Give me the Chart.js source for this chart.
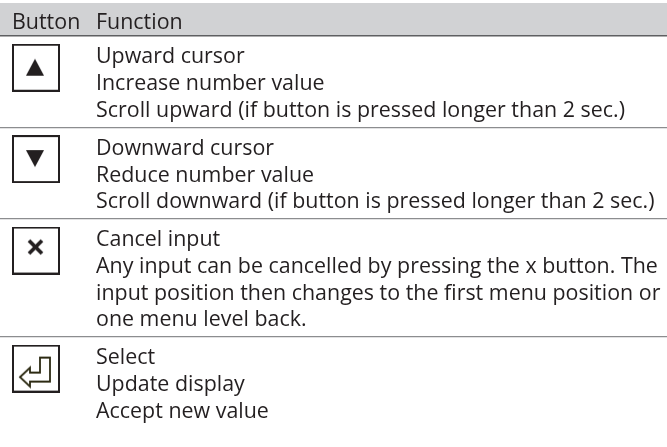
<!DOCTYPE html>
<html>
<head>
<meta charset="utf-8">
<script src="https://cdn.jsdelivr.net/npm/chart.js@4/dist/chart.umd.min.js"></script>
<style>
	html, body { margin: 0; padding: 0; background: #fff; }
	#wrap { width: 667px; height: 447px; }
</style>
</head>
<body>
<div id="wrap"><canvas id="tabla" width="667" height="447"></canvas></div>
<script>
// Datos de la tabla
const headerLabels = ['Button', 'Function'];
const buttons = ['up', 'down', 'cancel', 'enter'];
const functionLines = [
	['Upward cursor', 'Increase number value', 'Scroll upward (if button is pressed longer than 2 sec.)'],
	['Downward cursor', 'Reduce number value', 'Scroll downward (if button is pressed longer than 2 sec.)'],
	['Cancel input', 'Any input can be cancelled by pressing the x button. The', 'input position then changes to the first menu position or', 'one menu level back.'],
	['Select', 'Update display', 'Accept new value'],
];

// Medidas de la maqueta (una unidad = una línea de texto)
const PITCH = 26.65;
const TOP_PX = 36;
const ROW_PAD = 0.43;
const TEXT_COLOR = '#231f20';
const FONT = '21px "Open Sans"';

// Límites de cada fila en unidades de línea
const rowTops = [];
const rowEnds = [];
let acc = 0;
functionLines.forEach(function (lines) {
	rowTops.push(acc);
	acc += lines.length + ROW_PAD;
	rowEnds.push(acc);
});
const gridValues = [0].concat(rowEnds.slice(0, -1));

// Iconos de los botones
function crearIcono(tipo) {
	const c = document.createElement('canvas');
	c.width = 48; c.height = 48;
	const g = c.getContext('2d');
	g.fillStyle = '#fff';
	g.fillRect(0, 0, 48, 48);
	g.strokeStyle = TEXT_COLOR;
	g.lineWidth = 2;
	g.strokeRect(1, 1, 46, 46);
	g.fillStyle = TEXT_COLOR;
	if (tipo === 'up') {
		g.beginPath(); g.moveTo(23, 15); g.lineTo(32, 32); g.lineTo(14, 32); g.closePath(); g.fill();
	} else if (tipo === 'down') {
		g.beginPath(); g.moveTo(14, 15); g.lineTo(32, 15); g.lineTo(23, 32); g.closePath(); g.fill();
	} else if (tipo === 'cancel') {
		g.lineWidth = 3.8;
		g.beginPath();
		g.moveTo(17, 14); g.lineTo(30, 27);
		g.moveTo(30, 14); g.lineTo(17, 27);
		g.stroke();
	} else if (tipo === 'enter') {
		const cx = 23.5, cy = 23.5;
		const pts = [[-15.5, 9], [-5.5, -0.5], [-5.5, 4.5], [4.5, 4.5], [4.5, -10.5], [14.5, -10.5], [14.5, 13.5], [-5.5, 13.5], [-5.5, 18.5]];
		g.strokeStyle = '#2c2a12';
		g.lineWidth = 1.8;
		g.lineJoin = 'miter';
		g.beginPath();
		pts.forEach(function (p, i) {
			if (i === 0) g.moveTo(cx + p[0], cy + p[1]); else g.lineTo(cx + p[0], cy + p[1]);
		});
		g.closePath();
		g.stroke();
	}
	return c;
}
const iconos = buttons.map(crearIcono);

// Texto de la tabla y banda de cabecera
const tablaPlugin = {
	id: 'tablaPlugin',
	beforeDraw: function (chart) {
		const ctx = chart.ctx;
		const y = chart.scales.y;
		ctx.save();
		ctx.fillStyle = '#d1d2d4';
		const top = 3;
		const bottom = y.getPixelForValue(0);
		ctx.fillRect(0, top, chart.width, bottom - top);
		ctx.restore();
	},
	afterDraw: function (chart) {
		const ctx = chart.ctx;
		const y = chart.scales.y;
		ctx.save();
		ctx.font = FONT;
		ctx.fillStyle = TEXT_COLOR;
		ctx.textBaseline = 'alphabetic';
		const sx = 529 / ctx.measureText(functionLines[0][2]).width;
		function texto(t, x, py) {
			ctx.save();
			ctx.translate(x, py);
			ctx.scale(sx, 1);
			ctx.fillText(t, 0, 0);
			ctx.restore();
		}
		const hy = y.getPixelForValue(-0.26);
		texto(headerLabels[0], 12, hy);
		texto(headerLabels[1], 96, hy);
		functionLines.forEach(function (lines, r) {
			lines.forEach(function (t, k) {
				texto(t, 96, y.getPixelForValue(rowTops[r] + 1.03 + k));
			});
		});
		ctx.restore();
	}
};

const ctx = document.getElementById('tabla').getContext('2d');
const tabla = new Chart(ctx, {
	type: 'scatter',
	data: {
		datasets: [
			{
				label: 'Button',
				data: buttons.map(function (b, i) {
					return { x: 36, y: rowTops[i] + 1.19 };
				}),
				pointStyle: function (c) { return iconos[c.dataIndex]; },
				pointRadius: 3,
				clip: false,
			},
		],
	},
	options: {
		responsive: false,
		animation: false,
		events: [],
		layout: { padding: 0, autoPadding: false },
		plugins: {
			legend: { display: false },
			tooltip: { enabled: false },
		},
		scales: {
			x: {
				type: 'linear',
				display: false,
				min: 0,
				max: 667,
			},
			y: {
				type: 'linear',
				reverse: true,
				min: -TOP_PX / PITCH,
				max: (447 - TOP_PX) / PITCH,
				afterBuildTicks: function (scale) {
					scale.ticks = gridValues.map(function (v) { return { value: v }; });
				},
				afterFit: function (scale) {
					scale.width = 0;
				},
				ticks: { display: false },
				border: { display: false },
				grid: {
					drawTicks: false,
					color: function (c) { return c.tick && c.tick.value === 0 ? '#5e5f61' : '#8c8d8f'; },
					lineWidth: function (c) { return c.tick && c.tick.value === 0 ? 1.5 : 1.3; },
				},
			},
		},
	},
	plugins: [tablaPlugin],
});
</script>
</body>
</html>
